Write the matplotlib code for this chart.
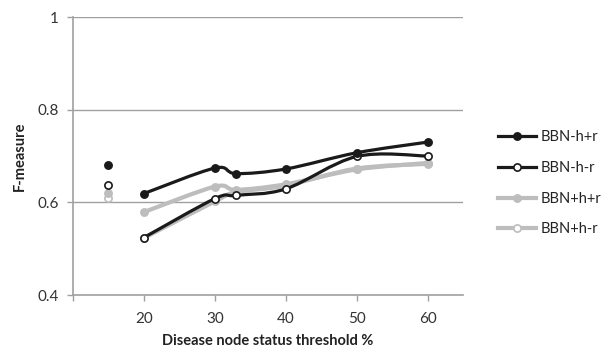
import matplotlib
matplotlib.use("Agg")
import matplotlib.pyplot as plt
from matplotlib.path import Path
from matplotlib.patches import PathPatch
from matplotlib.lines import Line2D
import numpy as np

plt.rcParams['font.family'] = ['Lato', 'DejaVu Sans']

x_single = 15
thresholds = [20, 30, 33, 40, 50, 60]
series_names = ['BBN-h+r', 'BBN-h-r', 'BBN+h+r', 'BBN+h-r']
single_vals = [0.680, 0.638, 0.621, 0.609]
bbn_hr_plus = [0.619, 0.674, 0.662, 0.672, 0.707, 0.730]
bbn_hr_minus = [0.524, 0.608, 0.615, 0.629, 0.699, 0.700]
bbnp_hr_plus = [0.579, 0.634, 0.627, 0.639, 0.671, 0.685]
bbnp_hr_minus = [0.523, 0.602, 0.622, 0.636, 0.673, 0.683]
series_vals = [bbn_hr_plus, bbn_hr_minus, bbnp_hr_plus, bbnp_hr_minus]

x_ticks = [10, 20, 30, 40, 50, 60]
x_ticklabels = ['', '20', '30', '40', '50', '60']
y_ticks = [0.4, 0.6, 0.8, 1.0]
y_ticklabels = ['0.4', '0.6', '0.8', '1']

styles = [
    dict(color='#1a1a1a', face='#1a1a1a', lw=2.3, z=5),
    dict(color='#1a1a1a', face='white', lw=2.3, z=4),
    dict(color='#bdbdbd', face='#bdbdbd', lw=3.0, z=3),
    dict(color='#bdbdbd', face='white', lw=3.0, z=2),
]
ms = 5.2

fig = plt.figure(figsize=(6.12, 3.55), dpi=100)
ax = fig.add_axes([0.1193, 0.169, 0.6372, 0.783])
xlim = (10, 65)
ylim = (0.4, 1.0)
ax.set_xlim(*xlim)
ax.set_ylim(*ylim)

axis_gray = '#a0a0a0'
for y in [0.6, 0.8, 1.0]:
    ax.axhline(y, color=axis_gray, lw=1.0, zorder=0)

sx = 1.0 / (xlim[1] - xlim[0]) * 390
sy = 1.0 / (ylim[1] - ylim[0]) * 278


def smooth_path(xs, ys):
    P = np.column_stack([np.array(xs, float) * sx, np.array(ys, float) * sy])
    n = len(P)
    verts = [P[0]]
    codes = [Path.MOVETO]
    for i in range(n - 1):
        p0 = P[i - 1] if i > 0 else P[i]
        p1 = P[i]
        p2 = P[i + 1]
        p3 = P[i + 2] if i + 2 < n else P[i + 1]
        c1 = p1 + (p2 - p0) / 6.0
        c2 = p2 - (p3 - p1) / 6.0
        verts += [c1, c2, p2]
        codes += [Path.CURVE4] * 3
    V = np.array(verts)
    V[:, 0] /= sx
    V[:, 1] /= sy
    return Path(V, codes)


handles = []
for name, vals, sv, st in zip(series_names, series_vals, single_vals, styles):
    path = smooth_path(thresholds, vals)
    ax.add_patch(PathPatch(path, facecolor='none', edgecolor=st['color'],
                           lw=st['lw'], zorder=st['z'], capstyle='round', joinstyle='round'))
    ax.plot(thresholds, vals, linestyle='none', marker='o', markersize=ms,
            markerfacecolor=st['face'], markeredgecolor=st['color'],
            markeredgewidth=1.2, zorder=st['z'] + 0.5)
    ax.plot([x_single], [sv], linestyle='none', marker='o', markersize=ms,
            markerfacecolor=st['face'], markeredgecolor=st['color'],
            markeredgewidth=1.2, zorder=st['z'] + 0.5)
    handles.append(Line2D([0], [0], color=st['color'], lw=st['lw'], marker='o',
                          markersize=ms, markerfacecolor=st['face'],
                          markeredgecolor=st['color'], markeredgewidth=1.2,
                          label=name))

for s in ['top', 'right']:
    ax.spines[s].set_visible(False)
for s in ['left', 'bottom']:
    ax.spines[s].set_color(axis_gray)
    ax.spines[s].set_linewidth(1.2)

ax.set_xticks(x_ticks)
ax.set_xticklabels(x_ticklabels)
ax.set_yticks(y_ticks)
ax.set_yticklabels(y_ticklabels)
ax.tick_params(axis='both', colors=axis_gray, labelcolor='#333333',
               labelsize=11, length=4, width=1.0, direction='out')
ax.tick_params(axis='x', pad=8)
ax.tick_params(axis='y', pad=6)

ax.set_xlabel('Disease node status threshold %', fontsize=10.5, fontweight='bold',
              color='#222222', labelpad=6)
ax.set_ylabel('F-measure', fontsize=10.5, fontweight='bold', color='#222222', labelpad=8)

leg = fig.legend(handles=handles, loc='upper left', bbox_to_anchor=(0.805, 0.65),
                 frameon=False, fontsize=10.5, handlelength=2.6, labelspacing=1.15,
                 handletextpad=0.3, borderaxespad=0)
for t in leg.get_texts():
    t.set_color('#222222')

fig.savefig('out.png', dpi=100)
